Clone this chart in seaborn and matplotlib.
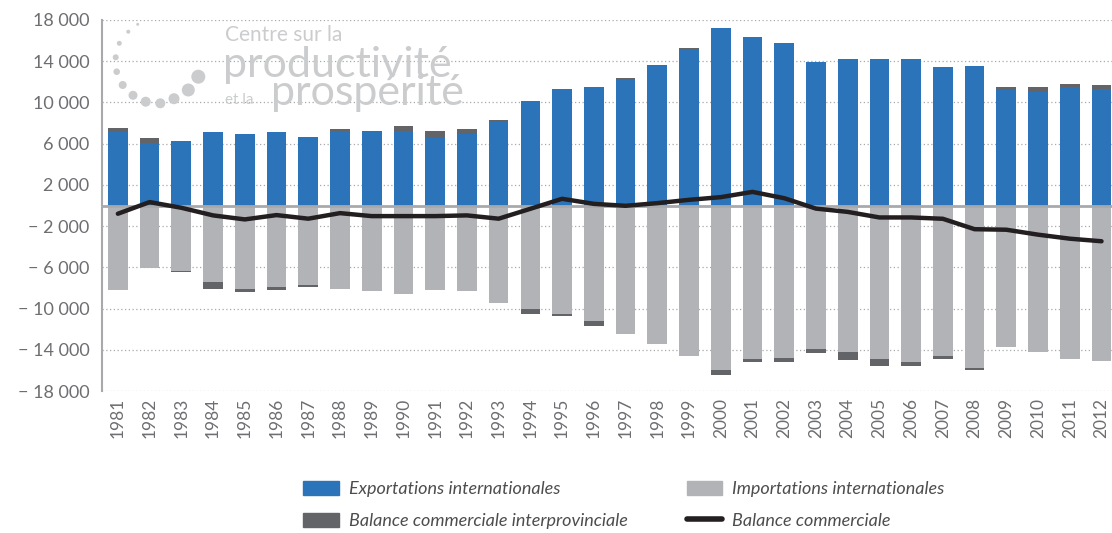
import numpy as np
import pandas as pd
import matplotlib.pyplot as plt
import seaborn as sns
from matplotlib.patches import Patch, Circle
from matplotlib.lines import Line2D

# données (millions de $)
annees = ['1981', '1982', '1983', '1984', '1985', '1986', '1987', '1988',
          '1989', '1990', '1991', '1992', '1993', '1994', '1995', '1996',
          '1997', '1998', '1999', '2000', '2001', '2002', '2003', '2004',
          '2005', '2006', '2007', '2008', '2009', '2010', '2011', '2012']
exportations = [7110, 6100, 6240, 7110, 6980, 7140, 6630, 7210,
                7140, 7270, 6590, 6920, 8110, 10120, 11280, 11530,
                12210, 13500, 15090, 17220, 16320, 15740, 13920, 14210,
                14210, 14210, 13440, 13500, 11180, 11050, 11470, 11340]
importations = [-8200, -6110, -6360, -7430, -8130, -7880, -7710, -8130,
                -8260, -8610, -8200, -8320, -9480, -10030, -10540, -11190,
                -12440, -13470, -14630, -15980, -14880, -14790, -13890, -14210,
                -14880, -15140, -14560, -15810, -13760, -14180, -14850, -15070]
interprov = [450, 430, -100, -670, -290, -290, -230, 250,
             80, 420, 620, 510, 220, -450, -230, -480,
             190, 160, 160, -510, -290, -350, -450, -770,
             -650, -390, -320, -160, 350, 420, 320, 330]
balance = [-800, 330, -220, -960, -1350, -930, -1280, -740,
           -1030, -1030, -1030, -960, -1280, -320, 650, 160,
           -30, 230, 550, 810, 1320, 710, -300, -620,
           -1160, -1160, -1290, -2300, -2350, -2830, -3220, -3470]

etiquettes = ['Exportations internationales', 'Importations internationales',
              'Balance commerciale interprovinciale', 'Balance commerciale']

BLEU = '#2b74b9'
GRIS = '#b2b3b6'
FONCE = '#636467'
NOIR = '#231f20'
LIGNE = '#a7a9ac'
TEXTE = '#6d6e71'

df = pd.DataFrame({'annee': annees, 'exp': exportations, 'imp': importations,
                   'inter': interprov})
# empilement : la balance interprovinciale se pose au-dessus ou au-dessous
df['haut'] = df['exp'] + df['inter'].clip(lower=0)
df['bas'] = df['imp'] + df['inter'].clip(upper=0)

sns.set_style('white')
plt.rcParams['font.family'] = ['Lato', 'DejaVu Sans']

W, H = 1112, 533
fig = plt.figure(figsize=(W / 100, H / 100), dpi=100)
ax = fig.add_axes([102 / W, 1 - 391 / H, 1 - 102 / W, 371 / H])

larg = 0.62
for col, coul in [('haut', FONCE), ('exp', BLEU), ('bas', FONCE), ('imp', GRIS)]:
    sns.barplot(data=df, x='annee', y=col, color=coul, width=larg,
                saturation=1, errorbar=None, linewidth=0, ax=ax, zorder=2)

ax.axhline(0, color=LIGNE, lw=2, zorder=3)
sns.lineplot(x=np.arange(len(annees)), y=balance, color=NOIR, lw=3.2,
             ax=ax, zorder=4, solid_capstyle='round', solid_joinstyle='round')

ax.set_xlim(-0.5, len(annees) - 0.67)
ax.set_ylim(-18000, 18000)
yt = np.arange(-18000, 18001, 4000)
ax.set_yticks(yt)
ax.set_yticklabels([(f'{v:,}' if v > 0 else f'\u2212 {abs(v):,}').replace(',', ' ')
                    for v in yt])
ax.yaxis.grid(True, linestyle=(0, (1, 2)), color=LIGNE, lw=0.9)
ax.set_axisbelow(True)
ax.set_xlabel('')
ax.set_ylabel('')
plt.setp(ax.get_xticklabels(), rotation=90)
ax.tick_params(axis='x', length=0, pad=5, labelsize=12.5, labelcolor=TEXTE)
ax.tick_params(axis='y', length=0, pad=9, labelsize=13, labelcolor=TEXTE)
for s in ['top', 'right', 'bottom']:
    ax.spines[s].set_visible(False)
ax.spines['left'].set_color(LIGNE)
ax.spines['left'].set_linewidth(1.5)

# filigrane du Centre (les deux grands mots se chevauchent dans le logo d'origine)
fil = '#cbccce'
for (px, py, r) in [(137.7, 24.3, 1.5), (128.3, 31.7, 2), (119.3, 43.3, 2.5),
                    (115.7, 57.3, 3), (116.7, 71.7, 3.3), (122.7, 85, 4),
                    (133, 95.3, 4.5), (145.7, 101.7, 5), (160.3, 103.3, 5),
                    (174, 98.7, 5.5), (188.3, 90, 6.5), (198.3, 76.7, 7)]:
    fig.add_artist(Circle((px, H - py), r, transform=None, color=fil, lw=0))
fig.text(225 / W, 1 - 41 / H, 'Centre sur la', fontsize=15, color=fil)
fig.text(223 / W, 1 - 77 / H, 'productivité', fontsize=31, color=fil)
fig.text(225 / W, 1 - 104 / H, 'et la', fontsize=11, color=fil)
fig.text(271 / W, 1 - 105 / H, 'prospérité', fontsize=31, color=fil)

poignees = [Patch(color=BLEU), Patch(color=FONCE), Patch(color=GRIS),
            Line2D([], [], color=NOIR, lw=4)]
noms = [etiquettes[0], etiquettes[2], etiquettes[1], etiquettes[3]]
leg = fig.legend(poignees, noms, ncol=2, loc='center',
                 bbox_to_anchor=(624 / W, 1 - 505 / H), frameon=False,
                 prop={'size': 13, 'style': 'italic'},
                 handlelength=1.95, handleheight=0.85, handletextpad=0.55,
                 columnspacing=3.3, labelspacing=0.85)
for t in leg.get_texts():
    t.set_color('#4d4d4f')

fig.savefig('out.png', dpi=100)
